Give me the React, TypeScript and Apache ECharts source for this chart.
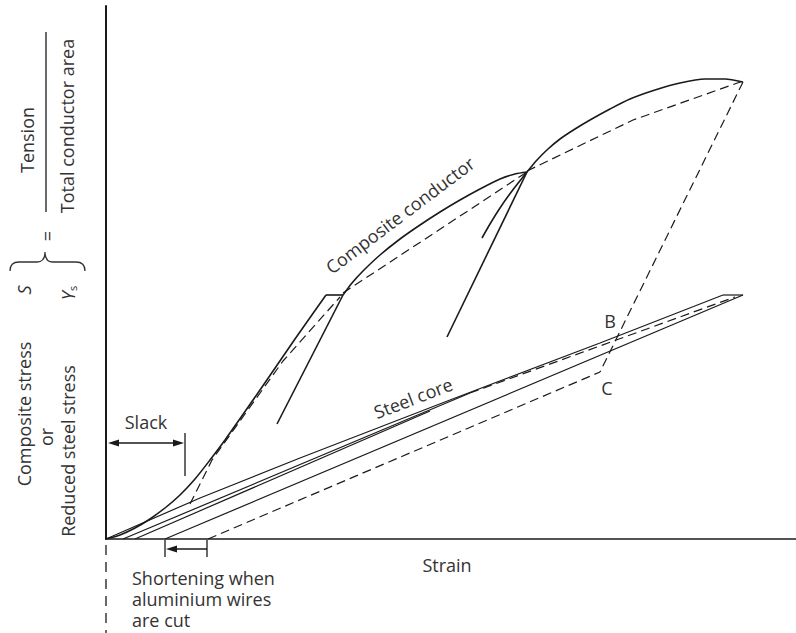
import React, { useEffect, useRef } from "react";
import * as echarts from "echarts";

// Arbitrary units: strain (x) and stress (y)
const compositeLoad = [[0, 0], [0.14, 0.04], [0.29, 0.11], [0.44, 0.2], [0.59, 0.31], [0.74, 0.44], [0.89, 0.6], [1.04, 0.79], [1.19, 0.99], [1.54, 1.49], [1.89, 2.0], [2.2, 2.44]];
const compositeHold1 = [[2.2, 2.44], [2.37, 2.44]];
const compositeUnload1 = [[2.37, 2.44], [1.71, 1.15]];
const compositeReload1Dashed = [[0.84, 0.35], [1.06, 0.79], [1.77, 1.78], [2.34, 2.42]];
const compositeLoad2 = [[2.37, 2.44], [2.46, 2.56], [2.57, 2.68], [2.74, 2.84], [2.94, 3.0], [3.14, 3.14], [3.34, 3.27], [3.54, 3.39], [3.74, 3.5], [3.94, 3.6], [4.09, 3.65], [4.21, 3.67]];
const compositeDashed2 = [[2.37, 2.46], [4.21, 3.67]];
const compositeReload2 = [[3.76, 3.01], [3.84, 3.15], [3.94, 3.31], [4.06, 3.48], [4.21, 3.67]];
const compositeUnload2 = [[4.21, 3.67], [3.41, 2.02]];
const compositeLoad3 = [[4.21, 3.67], [4.31, 3.79], [4.42, 3.9], [4.54, 4.0], [4.69, 4.1], [4.84, 4.19], [5.04, 4.3], [5.24, 4.4], [5.49, 4.49], [5.74, 4.56], [5.99, 4.6], [6.19, 4.6], [6.37, 4.57]];
const compositeDashed3 = [[4.21, 3.68], [5.27, 4.19], [6.37, 4.58]];
const finalUnloadDashed = [[6.37, 4.57], [4.94, 1.67]];
const cutWiresDashed = [[1.02, 0], [4.94, 1.67]];

const steelLoad = [[0, 0], [0.94, 0.41], [1.94, 0.81], [3.44, 1.39], [4.94, 1.96], [6.17, 2.44]];
const steelHold = [[6.17, 2.44], [6.37, 2.44]];
const steelUnload = [[6.37, 2.44], [0.59, 0]];
const steelLineA = [[0.17, 0], [3.64, 1.46]];
const steelLineADashed = [[3.64, 1.46], [6.29, 2.42]];
const steelLineB = [[0.29, 0], [3.24, 1.28]];

const FONT = '"Open Sans", "Noto Sans", sans-serif';
const INK = "#1a1a1a";
const TXT = "#333333";
const FS = 18;

function line(name: string, data: number[][], dashed: boolean, width: number, smooth = false) {
  return {
    name,
    type: "line",
    data,
    showSymbol: false,
    symbol: "none",
    smooth: smooth ? 0.25 : false,
    lineStyle: { color: INK, width, type: dashed ? [9, 5] : "solid" },
    silent: true,
  };
}

function txt(text: string, x: number, y: number, opts: any = {}) {
  return {
    type: "text",
    x,
    y,
    rotation: opts.rotation || 0,
    style: {
      text,
      fill: TXT,
      fontFamily: FONT,
      fontSize: opts.fontSize || FS,
      fontStyle: opts.italic ? "italic" : "normal",
      align: opts.align || "center",
      verticalAlign: opts.verticalAlign || "middle",
      lineHeight: opts.lineHeight,
    },
  };
}

function seg(x1: number, y1: number, x2: number, y2: number, dash?: number[]) {
  return {
    type: "line",
    shape: { x1, y1, x2, y2 },
    style: { stroke: INK, lineWidth: 1.3, lineDash: dash },
  };
}

function head(x: number, y: number, dir: number) {
  return {
    type: "polygon",
    shape: { points: [[x, y], [x - dir * 11, y - 3.5], [x - dir * 11, y + 3.5]] },
    style: { fill: INK },
  };
}

echarts.graphic.registerShape(
  "brace",
  echarts.graphic.extendPath("M0 20 Q0 11 9 11 L27 11 Q35 11 35 1 Q35 11 43 11 L66 11 Q75 11 75 20", {}) as any
);

export default function App() {
  const ref = useRef<HTMLDivElement>(null);
  useEffect(() => {
    if (!ref.current) return;
    const chart = echarts.init(ref.current, null, { renderer: "svg" });
    const R = Math.PI / 2;
    chart.setOption({
      animation: false,
      backgroundColor: "#ffffff",
      grid: { left: 106, top: 6, right: 0, bottom: 94 },
      xAxis: {
        type: "value",
        min: 0,
        max: 6.9,
        axisLine: { show: true, onZero: false, lineStyle: { color: INK, width: 1.5 } },
        axisTick: { show: false },
        axisLabel: { show: false },
        splitLine: { show: false },
      },
      yAxis: {
        type: "value",
        min: 0,
        max: 5.33,
        axisLine: { show: true, onZero: false, lineStyle: { color: INK, width: 2 } },
        axisTick: { show: false },
        axisLabel: { show: false },
        splitLine: { show: false },
      },
      series: [
        line("Composite loading", compositeLoad, false, 1.6, true),
        line("Composite hold 1", compositeHold1, false, 1.6),
        line("Composite unloading 1", compositeUnload1, false, 1.6),
        line("Composite reloading 1", compositeReload1Dashed, true, 1.2),
        line("Composite loading 2", compositeLoad2, false, 1.6, true),
        line("Composite mean 2", compositeDashed2, true, 1.2),
        line("Composite reloading 2", compositeReload2, false, 1.6, true),
        line("Composite unloading 2", compositeUnload2, false, 1.6),
        line("Composite loading 3", compositeLoad3, false, 1.6, true),
        line("Composite mean 3", compositeDashed3, true, 1.2),
        line("Final unloading", finalUnloadDashed, true, 1.2),
        line("Aluminium cut", cutWiresDashed, true, 1.2),
        line("Steel loading", steelLoad, false, 1.2),
        line("Steel hold", steelHold, false, 1.2),
        line("Steel unloading", steelUnload, false, 1.2),
        line("Steel A", steelLineA, false, 1.2),
        line("Steel A dashed", steelLineADashed, true, 1.2),
        line("Steel B", steelLineB, false, 1.2),
      ],
      graphic: [
        txt("Tension", 27, 140, { rotation: R }),
        seg(46, 32, 46, 212),
        txt("Total conductor area", 67, 126, { rotation: R }),
        txt("=", 47, 236, { rotation: R }),
        { type: "brace", x: 10, y: 251, style: { stroke: TXT, fill: "none", lineWidth: 1.3 } },
        txt("Composite stress", 24, 414, { rotation: R }),
        txt("S", 24, 290, { rotation: R, italic: true }),
        txt("or", 46, 437, { rotation: R }),
        txt("Reduced steel stress", 68, 451, { rotation: R }),
        {
          type: "text",
          x: 68,
          y: 293,
          rotation: R,
          style: {
            text: "{i|Y}{s|s}",
            fill: TXT,
            align: "center",
            verticalAlign: "middle",
            rich: {
              i: { fontFamily: FONT, fontSize: FS, fontStyle: "italic", fill: TXT },
              s: { fontFamily: FONT, fontSize: 11, fill: TXT, padding: [9, 0, 0, 0] },
            },
          },
        },
        txt("Slack", 146, 422),
        seg(112, 443, 180, 443),
        head(108, 443, -1),
        head(184, 443, 1),
        seg(185, 433, 185, 476),
        seg(165, 540, 165, 557),
        seg(207, 540, 207, 557),
        seg(207, 549, 172, 549),
        head(166, 549, -1),
        seg(106, 545, 106, 633, [10, 7]),
        txt("Shortening when\naluminium wires\nare cut", 132, 567, { align: "left", verticalAlign: "top", lineHeight: 21 }),
        txt("Strain", 447, 565),
        txt("Composite conductor", 400, 215, { rotation: (37 * Math.PI) / 180 }),
        txt("Steel core", 413, 398, { rotation: (21 * Math.PI) / 180 }),
        txt("B", 610, 321),
        txt("C", 607, 388),
      ],
    });
    return () => chart.dispose();
  }, []);
  return <div ref={ref} style={{ position: "fixed", left: 0, top: 0, width: 796, height: 633 }} />;
}
